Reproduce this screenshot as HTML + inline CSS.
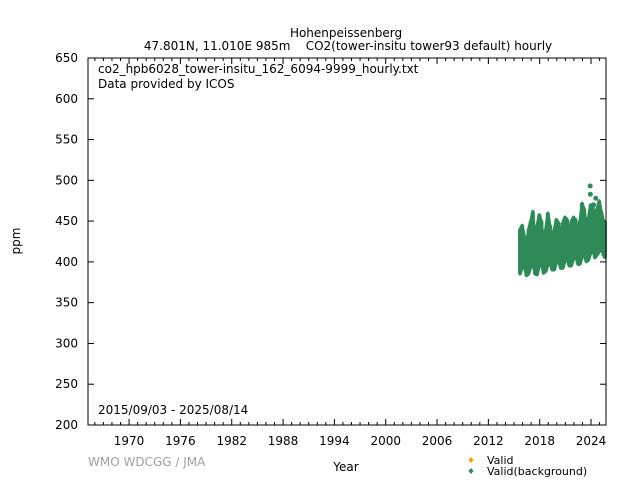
<!DOCTYPE html>
<html><head><meta charset="utf-8"><style>
body{margin:0;background:#fff;}
svg{font-family:"DejaVu Sans","Liberation Sans",sans-serif;}
</style></head><body>
<svg id="chart" width="640" height="480" xmlns="http://www.w3.org/2000/svg">
<rect width="640" height="480" fill="#fff"/>
<text x="346" y="37" font-size="12" text-anchor="middle">Hohenpeissenberg</text>
<text x="348" y="50" font-size="12" text-anchor="middle" style="white-space:pre">47.801N, 11.010E 985m    CO2(tower-insitu tower93 default) hourly</text>
<g id="plot"></g>
<rect x="88" y="58" width="518" height="367" fill="none" stroke="#000"/>
<text x="98" y="73" font-size="12">co2_hpb6028_tower-insitu_162_6094-9999_hourly.txt</text>
<text x="98" y="88" font-size="12">Data provided by ICOS</text>
<text x="98" y="414" font-size="12">2015/09/03 - 2025/08/14</text>
<text x="20" y="241" font-size="12" text-anchor="middle" transform="rotate(-90 20 241)">ppm</text>
<text x="346" y="471" font-size="12" text-anchor="middle">Year</text>
<text x="88" y="466" font-size="12" fill="#a0a0a0">WMO WDCGG / JMA</text>
<polygon points="471,457 473.5,460 471,463 468.5,460" fill="#f0a000"/>
<text x="487" y="464" font-size="11">Valid</text>
<polygon points="471,468 473.5,471 471,474 468.5,471" fill="#2e8b57"/>
<text x="487" y="475" font-size="11">Valid(background)</text>
</svg>
<script>
const yTicks=[200,250,300,350,400,450,500,550,600,650];
const xTicks=[1970,1976,1982,1988,1994,2000,2006,2012,2018,2024];
const times=[2015.7,2015.95,2016.2,2016.45,2016.7,2016.95,2017.2,2017.45,2017.7,2017.95,2018.2,2018.45,2018.7,2018.95,2019.2,2019.45,2019.7,2019.95,2020.2,2020.45,2020.7,2020.95,2021.2,2021.45,2021.7,2021.95,2022.2,2022.45,2022.7,2022.95,2023.2,2023.45,2023.7,2023.95,2024.2,2024.45,2024.7,2024.95,2025.2,2025.45,2025.62];
const lows=[385,392,395,383,385,393,400,385,384,395,398,386,388,395,400,390,390,398,402,392,392,400,405,395,395,403,408,397,397,405,410,400,402,410,415,405,408,412,418,408,405];
const highs=[440,445,432,420,440,450,462,425,445,458,450,420,440,460,445,425,440,452,448,430,448,455,452,432,450,455,452,435,450,472,465,440,455,470,470,450,465,475,462,450,450];
const outT=[2023.9,2023.92,2024.55,2024.3];
const outV=[493,483,478,470];
const X0=88,X1=606,Y0=425,Y1=58,XMIN=1965.2,XMAX=2025.75,YMIN=200,YMAX=650;
const sx=v=>X0+(v-XMIN)/(XMAX-XMIN)*(X1-X0);
const sy=v=>Y0-(v-YMIN)/(YMAX-YMIN)*(Y0-Y1);
const NS="http://www.w3.org/2000/svg";
const g=document.getElementById('plot');
function mk(t,a){const e=document.createElementNS(NS,t);for(const k in a)e.setAttribute(k,a[k]);g.appendChild(e);return e;}
yTicks.forEach(v=>{
 const l=mk('line',{x1:X0,x2:X0+6,y1:sy(v),y2:sy(v),stroke:'#000'});
 
 
 const r=mk('line',{x1:X1-6,x2:X1,y1:sy(v),y2:sy(v),stroke:'#000'});
 
 
 const t=mk('text',{x:X0-10,y:sy(v)+4,'font-size':12,'text-anchor':'end'});
 t.textContent=v;
 
 
});
for(let yr=1966;yr<=2025;yr++){
 const major=xTicks.includes(yr);
 const l=mk('line',{x1:sx(yr),x2:sx(yr),y1:Y0,y2:Y0-(major?6:3),stroke:'#000'});
 
 
 const u=mk('line',{x1:sx(yr),x2:sx(yr),y1:Y1,y2:Y1+(major?6:3),stroke:'#000'});
 
 
}
xTicks.forEach(v=>{
 const t=mk('text',{x:sx(v),y:Y0+20,'font-size':12,'text-anchor':'middle'});
 t.textContent=v;
 
 
});
let pts=times.map((t,i)=>sx(t)+','+sy(highs[i]));
pts=pts.concat(times.map((t,i)=>sx(t)+','+sy(lows[i])).reverse());
const band=mk('polygon',{points:pts.join(' '),fill:'#2e8b57',stroke:'#2e8b57','stroke-width':3,'stroke-linejoin':'round'});


times.forEach((t,i)=>{
 const b=mk('line',{x1:sx(t),x2:sx(t),y1:sy(highs[i]),y2:sy(lows[i]),stroke:'#2e8b57','stroke-width':4});
 
 
});
outT.forEach((t,i)=>{
 const c=mk('circle',{cx:sx(t),cy:sy(outV[i]),r:2.5,fill:'#2e8b57'});
 
 
});
</script>
</body></html>
